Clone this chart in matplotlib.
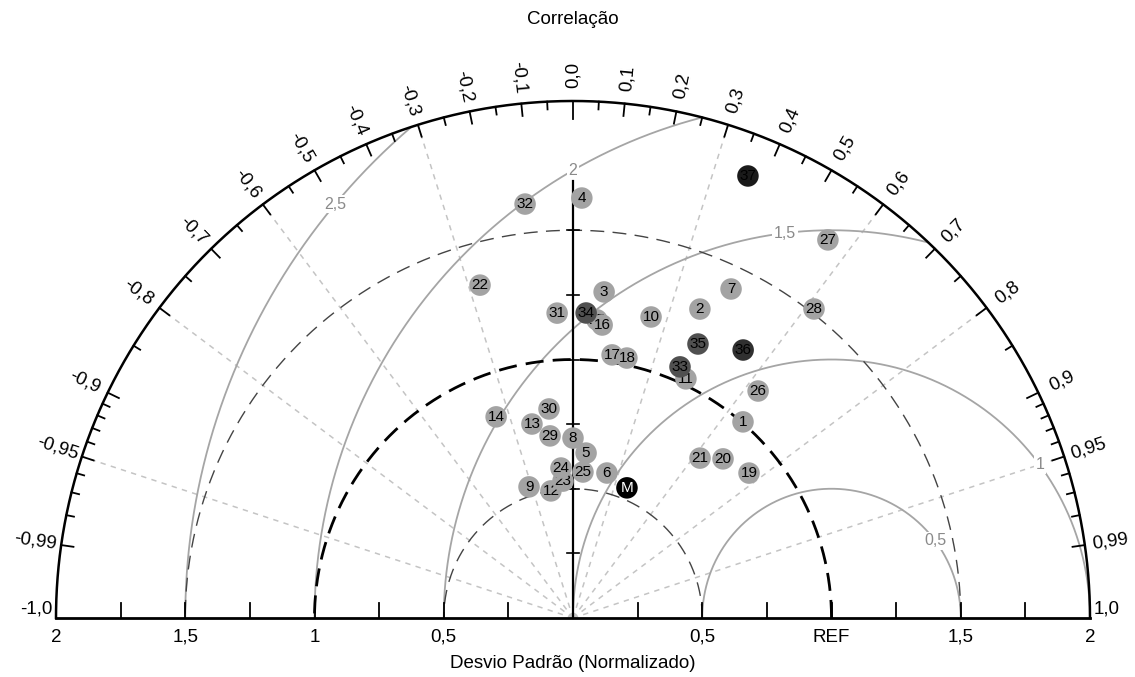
import numpy as np
import matplotlib
matplotlib.use('Agg')
import matplotlib.pyplot as plt

plt.rcParams['font.family'] = ['Liberation Sans', 'DejaVu Sans']

# ---------------- data ----------------
names = ['1', '2', '3', '4', '5', '6', '7', '8', '9', '10',
         '11', '12', '13', '14', '15', '16', '17', '18', '19', '20',
         '21', '22', '23', '24', '25', '26', '27', '28', '29', '30',
         '31', '32', '33', '34', '35', '36', '37', 'M']
std = [1.004, 1.292, 1.267, 1.625, 0.640, 0.576, 1.412, 0.696, 0.535, 1.203,
       1.023, 0.499, 0.767, 0.833, 1.157, 1.139, 1.029, 1.027, 0.882, 0.846,
       0.790, 1.337, 0.531, 0.582, 0.566, 1.133, 1.764, 1.516, 0.710, 0.814,
       1.181, 1.612, 1.056, 1.181, 1.165, 1.228, 1.839, 0.545]
corr = [0.655, 0.380, 0.095, 0.021, 0.079, 0.228, 0.433, 0.000, -0.318, 0.251,
        0.427, -0.171, -0.207, -0.357, 0.080, 0.099, 0.147, 0.203, 0.772, 0.686,
        0.622, -0.269, -0.073, -0.080, 0.068, 0.632, 0.559, 0.615, -0.125, -0.114,
        -0.052, -0.115, 0.392, 0.043, 0.415, 0.536, 0.368, 0.383]
group = ['g'] * 32 + ['d', 'd', 'd', 'k2', 'k1', 'M']

rms_levels = [0.5, 1.0, 1.5, 2.0, 2.5]
rms_labels = ['0,5', '1', '1,5', '2', '2,5']
rms_label_angle = [36.7, 36.3, 96.9, 120.0, 140.2]
std_arcs = [0.5, 1.0, 1.5]
corr_rays = [-0.95, -0.8, -0.6, -0.3, 0.3, 0.6, 0.8, 0.95]
corr_major = [0.0, 0.1, 0.2, 0.3, 0.4, 0.5, 0.6, 0.7, 0.8, 0.9, 0.95, 0.99]
corr_minor = [0.05, 0.15, 0.25, 0.35, 0.45, 0.55, 0.65, 0.75, 0.85,
              0.91, 0.92, 0.93, 0.94, 0.96, 0.97, 0.98]
x_ticks = [-2, -1.5, -1, -0.5, 0.5, 1, 1.5, 2]
x_ticklabels = ['2', '1,5', '1', '0,5', '0,5', 'REF', '1,5', '2']

colors = {'g': '#a3a3a3', 'd': '#505050', 'k2': '#303030', 'k1': '#1a1a1a', 'M': '#000000'}

# ---------------- figure ----------------
W, H = 1135, 677
S = 258.5  # px per unit
cx, cy = 573, 618
fig = plt.figure(figsize=(W / 100, H / 100), dpi=100)
ax = fig.add_axes([0, 0, 1, 1])
ax.set_xlim(-cx / S, (W - cx) / S)
ax.set_ylim(-(H - cy) / S, cy / S)
ax.axis('off')

R = 2.0
t = np.linspace(0, np.pi, 600)
FS = 13.5

# RMS arcs around REF
for lev, lab, ang in zip(rms_levels, rms_labels, rms_label_angle):
    phi = np.linspace(0, np.pi, 1500)
    x = 1 + lev * np.cos(phi)
    y = lev * np.sin(phi)
    m = np.hypot(x, y) <= R + 1e-9
    x = np.where(m, x, np.nan)
    y = np.where(m, y, np.nan)
    ax.plot(x, y, color='#a5a5a5', lw=1.3, zorder=2)
    a = np.deg2rad(ang)
    ax.text(1 + lev * np.cos(a), lev * np.sin(a), lab, fontsize=11.5, color='#8a8a8a',
            ha='center', va='center', zorder=3,
            bbox=dict(boxstyle='square,pad=0.1', fc='white', ec='none'))

# correlation rays
for c in corr_rays:
    th = np.arccos(c)
    ax.plot([0, R * np.cos(th)], [0, R * np.sin(th)], color='#c4c4c4', lw=1.1,
            linestyle=(0, (3.5, 3.5)), zorder=1)

# std arcs
for s in std_arcs:
    if s == 1.0:
        ax.plot(s * np.cos(t), s * np.sin(t), color='black', lw=2.0,
                linestyle=(0, (6.5, 3.3)), zorder=2.5)
    else:
        ax.plot(s * np.cos(t), s * np.sin(t), color='#444444', lw=1.0,
                linestyle=(0, (10, 6)), zorder=2.5)

# vertical line at corr 0
ax.plot([0, 0], [0, 1.69], color='black', lw=1.6, zorder=2.6)
for v in np.arange(0.25, 1.51, 0.25):
    ax.plot([-0.022, 0.022], [v, v], color='black', lw=1.2, zorder=2.6)

# outer arc
ax.plot(R * np.cos(t), R * np.sin(t), color='black', lw=1.8, zorder=4)
# baseline
ax.plot([-R, R], [0, 0], color='black', lw=2.0, zorder=4)
for xv in np.arange(-1.75, 1.76, 0.25):
    if abs(xv) < 1e-9:
        continue
    ax.plot([xv, xv], [0, 0.058], color='black', lw=1.3, zorder=4)

# correlation ticks and labels
def fmt(v):
    s = ('%.2f' % v).rstrip('0')
    if s.endswith('.'):
        s += '0'
    return s.replace('.', ',')

for sign in (1, -1):
    for c in corr_major:
        if sign == -1 and c == 0:
            continue
        cc = sign * c
        th = np.arccos(cc)
        L = 0.068 if c == 0 else 0.048
        ax.plot([R * np.cos(th), (R - L) * np.cos(th)],
                [R * np.sin(th), (R - L) * np.sin(th)], color='black', lw=1.3, zorder=4)
        rl = 2.1
        deg = np.degrees(th)
        rot = deg if deg <= 90 else deg - 180
        txt = fmt(c) if sign == 1 else '-' + fmt(c)
        ax.text(rl * np.cos(th), rl * np.sin(th), txt, fontsize=FS, rotation=rot,
                rotation_mode='anchor', ha='center', va='center', zorder=5)
    for c in corr_minor:
        th = np.arccos(sign * c)
        L = 0.03
        ax.plot([R * np.cos(th), (R - L) * np.cos(th)],
                [R * np.sin(th), (R - L) * np.sin(th)], color='black', lw=1.3, zorder=4)

ax.text(R + 0.015, 0.035, '1,0', fontsize=FS, ha='left', va='center')
ax.text(-R - 0.015, 0.035, '-1,0', fontsize=FS, ha='right', va='center')

# x tick labels
for xv, lab in zip(x_ticks, x_ticklabels):
    ax.text(xv, -0.075, lab, fontsize=FS, ha='center', va='center')

ax.text(0, -0.175, 'Desvio Padrão (Normalizado)', fontsize=FS, ha='center', va='center')
ax.text(0, (cy - 20) / S, 'Correlação', fontsize=FS, ha='center', va='center')

# points
for i, (n, s, c, g) in enumerate(zip(names, std, corr, group)):
    th = np.arccos(c)
    x, y = s * np.cos(th), s * np.sin(th)
    z = 10 + i * 0.01
    ax.scatter([x], [y], s=240, color=colors[g], edgecolors='none', zorder=z)
    tc = 'white' if g == 'M' else 'black'
    ax.text(x, y, n, fontsize=11, color=tc, ha='center', va='center', zorder=z + 0.005)

fig.savefig('out.png', dpi=100)
